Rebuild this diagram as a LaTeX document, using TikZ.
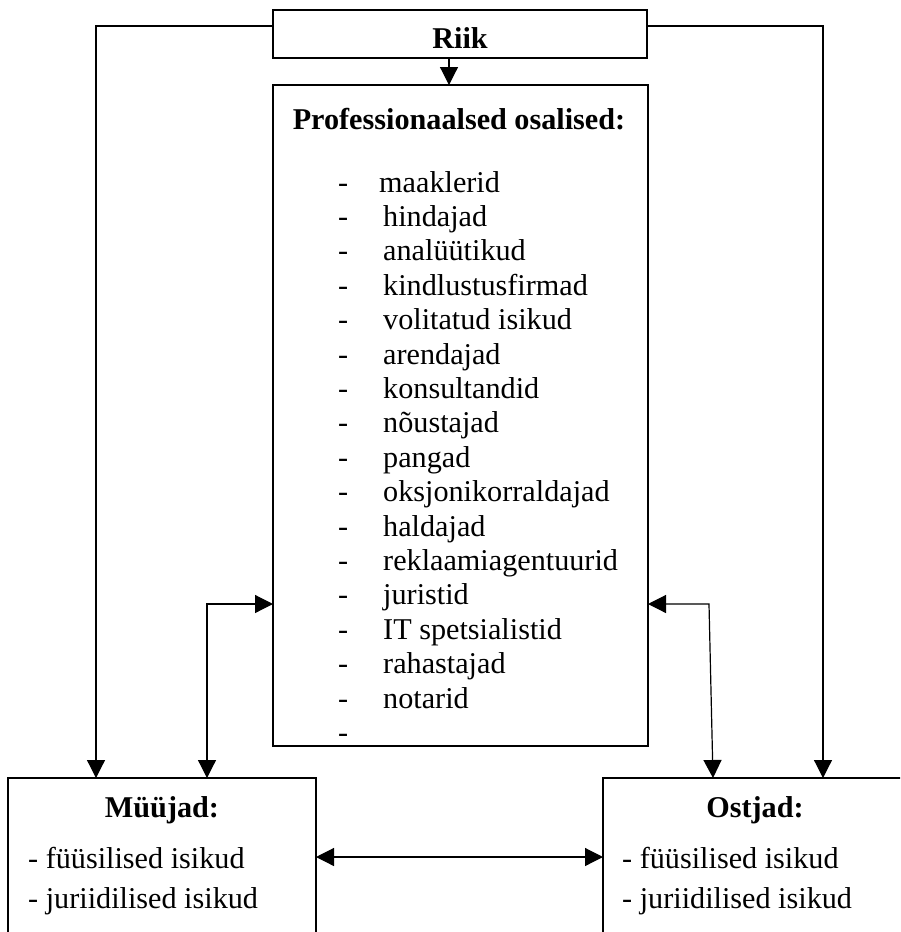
\documentclass[tikz,border=0pt]{standalone}
\usepackage{fontspec}
\setmainfont{Liberation Serif}
\usetikzlibrary{arrows.meta}
\begin{document}
\begin{tikzpicture}[x=1pt,y=-1pt,
  box/.style={draw,line width=1.3pt,inner sep=0pt,outer sep=0pt},
  tip/.tip={Triangle[length=18pt,width=18pt]},
  conn/.style={line width=1.2pt,-tip},
  conn2/.style={line width=1.2pt,tip-tip},
  item/.style={anchor=base west,inner sep=0pt,font=\fontsize{30.2}{34}\selectfont},
  ttl/.style={anchor=base,inner sep=0pt,font=\fontsize{30.2}{34}\selectfont\bfseries}]
\useasboundingbox (0,0) rectangle (900,932);
\clip (0,0) rectangle (900,932);
% boxes
\node[box,minimum width=374pt,minimum height=48pt] (riik) at (460,34) {};
\node[box,minimum width=375pt,minimum height=661pt] (prof) at (460.5,415.5) {};
\node[box,minimum width=308pt,minimum height=158pt] (myy) at (162,857) {};
\node[box,minimum width=307pt,minimum height=158pt] (ost) at (756.5,857) {};
% titles
\node[ttl] (riiklbl) at (460,48) {Riik};
\node[ttl] (proflbl) at (459,129) {Professionaalsed osalised:};
\node[ttl] (myylbl) at (162,817) {Müüjad:};
\node[ttl] (ostlbl) at (755,817) {Ostjad:};
% list
\node[item] (d0) at (338,192) {-};
\node[item] (t0) at (379,192) {maaklerid};
\foreach \t [count=\i from 1] in {hindajad,analüütikud,kindlustusfirmad,volitatud isikud,arendajad,konsultandid,nõustajad,pangad,oksjonikorraldajad,haldajad,reklaamiagentuurid,juristid,IT spetsialistid,rahastajad,notarid}{
  \node[item] (d\i) at (338,{192+34.4*\i}) {-};
  \node[item] (t\i) at (383,{192+34.4*\i}) {\t};
}
\node[item] (dlast) at (338,742) {-};
% seller/buyer items
\node[item] (m1) at (28,868) {- füüsilised isikud};
\node[item] (m2) at (28,908) {- juriidilised isikud};
\node[item] (o1) at (622,868) {- füüsilised isikud};
\node[item] (o2) at (622,908) {- juriidilised isikud};
% connectors
\draw[conn] ([xshift=-11pt]riik.south) -- ([xshift=-11pt]riik.south |- prof.north);
\draw[conn] ([yshift=8pt]riik.west) -| ([xshift=-66pt]myy.north);
\draw[conn] ([yshift=8pt]riik.east) -| ([xshift=66.5pt]ost.north);
\draw[conn2] ([yshift=-188.5pt]prof.west) -| ([xshift=45pt]myy.north);
\draw[conn2] ([yshift=-188.5pt]prof.east) -- ++(61,0) -- ([xshift=-43.5pt]ost.north);
\draw[conn2] (myy.east) -- (ost.west);
\end{tikzpicture}
\end{document}
